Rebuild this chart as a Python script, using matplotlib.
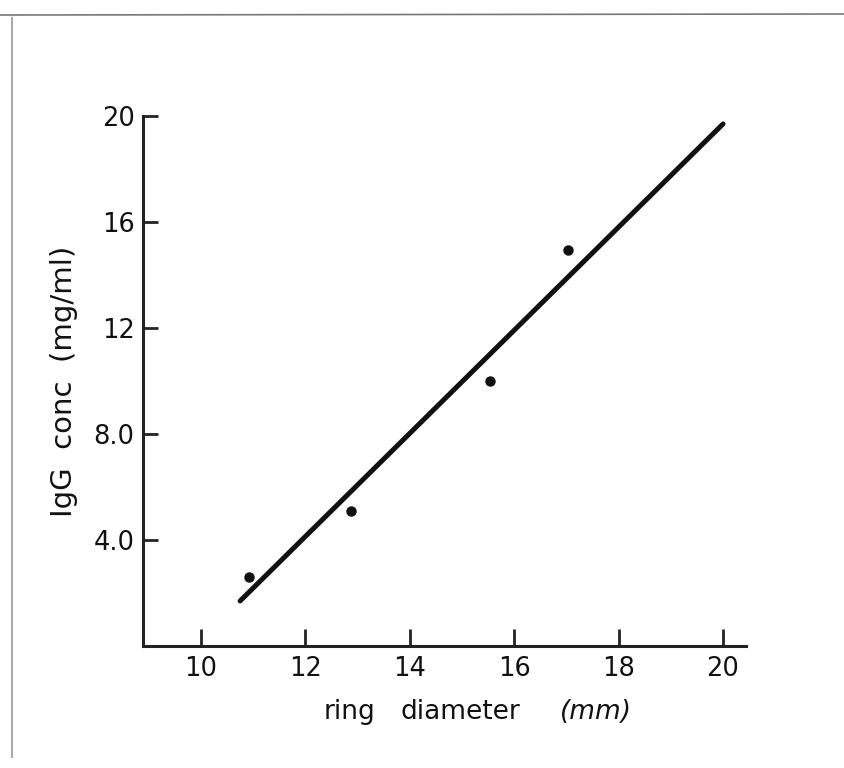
import matplotlib.pyplot as plt
from matplotlib.lines import Line2D

# data
ring_diam = [10.92, 12.87, 15.54, 17.03]   # mm
igg_conc = [2.6, 5.1, 10.0, 14.95]          # mg/ml

# fitted calibration line (end points)
fit_x = [10.75, 20.0]
fit_y = [1.7, 19.7]

yticks = [4, 8, 12, 16, 20]
ytick_labels = ["4.0", "8.0", "12", "16", "20"]
xticks = [10, 12, 14, 16, 18, 20]
xtick_labels = ["10", "12", "14", "16", "18", "20"]

plt.rcParams['font.family'] = ['DejaVu Sans']

W, H = 844, 768
fig = plt.figure(figsize=(W / 100, H / 100), dpi=100)
ax = fig.add_axes([143 / W, 1 - 646 / H, (746 - 143) / W, (646 - 116) / H])

ax.plot(fit_x, fit_y, color='#111111', lw=3.6, solid_capstyle='round')
ax.plot(ring_diam, igg_conc, 'o', color='#111111', ms=6.5)

ax.set_xlim(8.89, 20.44)
ax.set_ylim(0, 20)

for s in ['top', 'right']:
    ax.spines[s].set_visible(False)
for s in ['left', 'bottom']:
    ax.spines[s].set_linewidth(2.2)
    ax.spines[s].set_color('#222222')

ax.set_xticks(xticks)
ax.set_xticklabels(xtick_labels)
ax.set_yticks(yticks)
ax.set_yticklabels(ytick_labels)
ax.tick_params(axis='x', direction='in', length=12, width=2, color='#222222',
               labelsize=18.5, pad=7, labelcolor='#111111')
ax.tick_params(axis='y', direction='in', length=11, width=2, color='#222222',
               labelsize=18.5, pad=6, labelcolor='#111111')

# axis titles
ax.text(-0.131, 0.5, "IgG  conc  (mg/ml)", transform=ax.transAxes, rotation=90,
        ha='center', va='center', fontsize=21, color='#111111')
# x title words placed like the original, spread out
fig.text(324 / W, 1 - 712 / H, "ring", ha='left', va='center', fontsize=19, color='#111111')
fig.text(400 / W, 1 - 712 / H, "diameter", ha='left', va='center', fontsize=19, color='#111111')
fig.text(560 / W, 1 - 712 / H, "(mm)", ha='left', va='center', fontsize=19,
         style='italic', color='#111111')

# scan frame edges
fig.add_artist(Line2D([0.0, 1.0], [1 - 15 / H, 1 - 14 / H], transform=fig.transFigure,
                      color='#777777', lw=1.2))
fig.add_artist(Line2D([12 / W, 12 / W], [1 - 18 / H, 11 / H], transform=fig.transFigure,
                      color='#aaaaaa', lw=1.5))

fig.savefig('out.png', dpi=100)
